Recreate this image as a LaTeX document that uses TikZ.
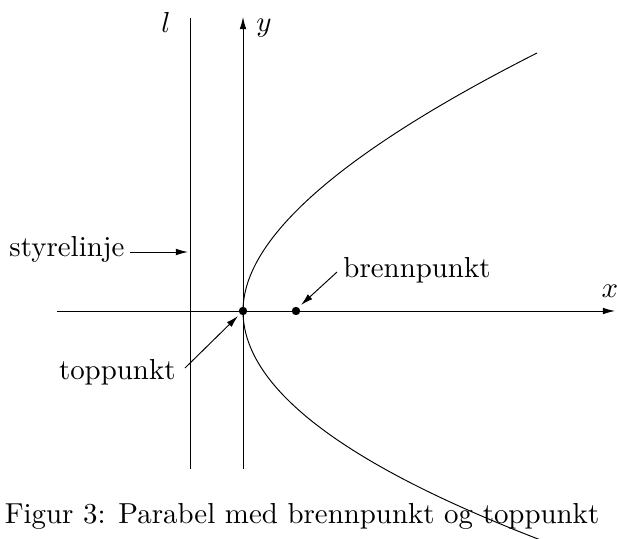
\documentclass[tikz,border=0pt]{standalone}
\usetikzlibrary{arrows.meta}
\begin{document}
\begin{tikzpicture}[x=0.346pt,y=-0.346pt,
  line width=0.33pt,
  tip/.style={-{Latex[length=4.2pt,width=2.3pt]}},
  pt/.style={circle,fill=black,inner sep=0pt,minimum size=2.9pt},
  lbl/.style={inner sep=0pt,font=\normalsize}]
\useasboundingbox (0,0) rectangle (617,538);
\clip (0,0) rectangle (617,538);
% axes and directrix
\coordinate (xs) at (57,311);
\coordinate (xe) at (615,311);
\coordinate (ys) at (243,469);
\coordinate (ye) at (243,17);
\coordinate (ls) at (190,469);
\coordinate (le) at (190,18);
\draw[tip] (xs) -- (xe);
\draw[tip] (ys) -- (ye);
\draw (ls) -- (le);
% parabola
\node[pt] (V) at (243,311) {};
\node[pt] (F) at (296,311) {};
\coordinate (U) at (537,53);
\coordinate (L) at (570,551);
\draw (V.center) .. controls (243,238.3) and (341,152.3) .. (U);
\draw (V.center) .. controls (243,391) and (352,471) .. (L);
% labels
\node[lbl,anchor=base] (lab-l) at (166,32) {$l$};
\node[lbl,anchor=base] (lab-y) at (264,31) {$y$};
\node[lbl,anchor=base] (lab-x) at (610,297) {$x$};
\node[lbl,anchor=base east] (sty) at (125,256) {styrelinje};
\node[lbl,anchor=base east] (top) at (176,379) {toppunkt};
\node[lbl,anchor=base west] (bre) at (343,277) {brennpunkt};
\node[lbl,anchor=base] (cap) at (302,523) {Figur 3: Parabel med brennpunkt og toppunkt};
% label arrows
\coordinate (s1) at (130,252);
\coordinate (s2) at (188,252);
\draw[tip] (s1) -- (s2);
\coordinate (t1) at (185,368);
\coordinate (t2) at (238,316);
\draw[tip] (t1) -- (t2);
\coordinate (b1) at (337,272);
\coordinate (b2) at (301,305);
\draw[tip] (b1) -- (b2);
\end{tikzpicture}
\end{document}
